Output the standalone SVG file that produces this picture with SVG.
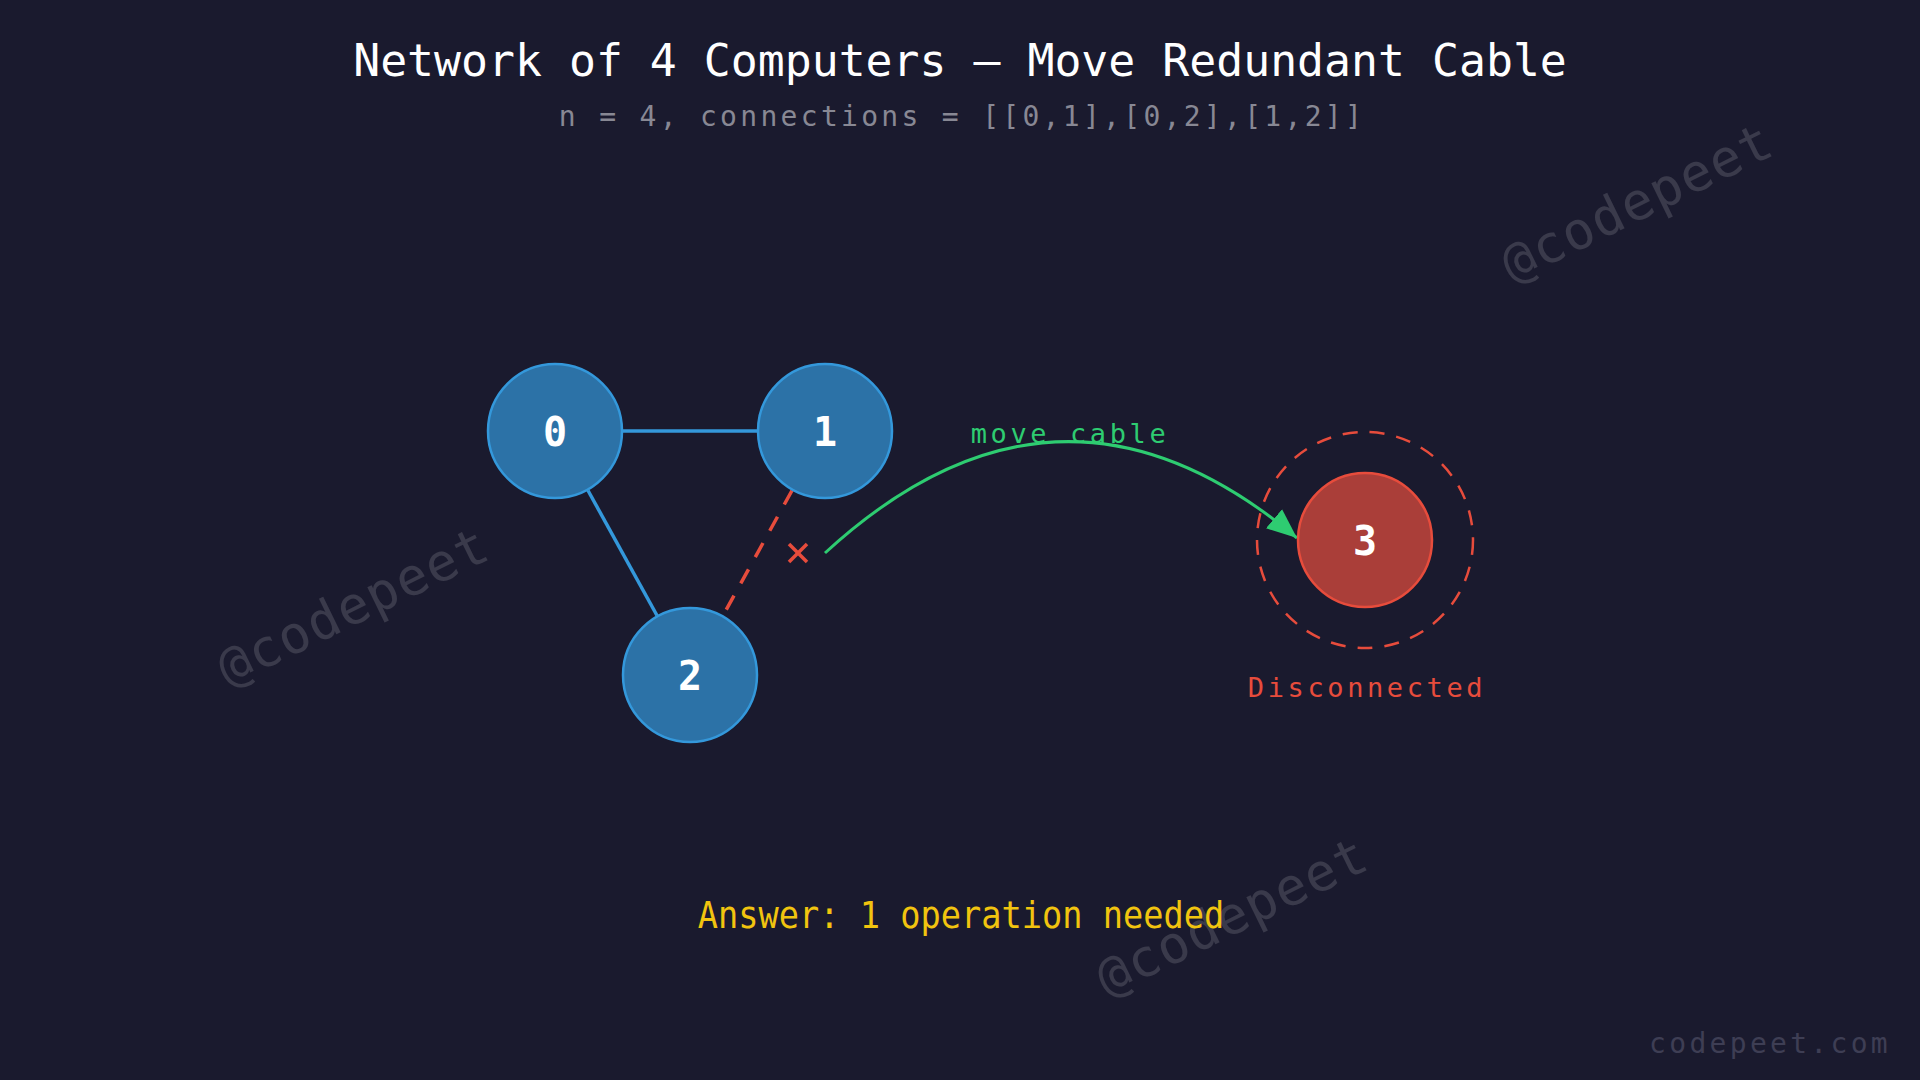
<svg xmlns="http://www.w3.org/2000/svg" width="1920" height="1080" viewBox="0 0 1920 1080">
<defs>
<style>
text{font-family:"DejaVu Sans Mono","Liberation Mono",monospace;}
.title{font-size:44.8px;fill:#ffffff;text-anchor:middle;}
.sub{font-size:28px;fill:#888894;text-anchor:middle;letter-spacing:3.3px;}
.wm{font-size:52px;fill:#ffffff;fill-opacity:0.14;text-anchor:middle;letter-spacing:1.5px;}
.foot{font-size:28px;fill:#3e3e54;text-anchor:end;letter-spacing:3.3px;}
.node{fill:#2c72a7;stroke:#3498db;stroke-width:2.5;}
.nodeBad{fill:#aa3e39;stroke:#e74c3c;stroke-width:2.5;}
.lbl{font-size:40px;font-weight:bold;fill:#ffffff;text-anchor:middle;}
.edge{stroke:#3498db;stroke-width:3.5;fill:none;}
.cut{stroke:#e74c3c;stroke-width:3.5;fill:none;stroke-dasharray:16,14;}
.note{font-size:27px;letter-spacing:3.6px;text-anchor:middle;}
</style>
<marker id="arrow" markerUnits="userSpaceOnUse" markerWidth="30" markerHeight="26" viewBox="0 0 12 10" refX="12" refY="5" orient="auto">
<path d="M0,0 L12,5 L0,10 z" fill="#2ecc71"/>
</marker>
</defs>
<rect width="1920" height="1080" fill="#1a1a2e"/>
<g id="watermarks">
<text class="wm" x="353" y="624" transform="rotate(-26 353 606)">@codepeet</text>
<text class="wm" x="1637" y="220" transform="rotate(-26 1637 202)">@codepeet</text>
<text class="wm" x="1232" y="934" transform="rotate(-26 1232 916)">@codepeet</text>
</g>
<text class="title" x="960" y="76">Network of 4 Computers — Move Redundant Cable</text>
<text class="sub" x="962" y="126">n = 4, connections = [[0,1],[0,2],[1,2]]</text>
<g id="connectors">
<line class="edge" x1="623" y1="431" x2="757" y2="431"/>
<line class="edge" x1="588" y1="490.5" x2="657" y2="615.5"/>
<line class="cut" x1="792" y1="490.5" x2="723" y2="615.5"/>
<g id="cut-mark" stroke="#e74c3c" stroke-width="3.5">
<line x1="789" y1="544" x2="807" y2="562"/>
<line x1="807" y1="544" x2="789" y2="562"/>
</g>
<path id="move-arc" d="M825,553 Q1059,338 1297,538" stroke="#2ecc71" stroke-width="3" fill="none" marker-end="url(#arrow)"/>
<text class="note" x="1070" y="443" fill="#2ecc71">move cable</text>
</g>
<g id="node-0">
<circle class="node" cx="555" cy="431" r="67"/>
<text class="lbl" x="555" y="446">0</text>
</g>
<g id="node-1">
<circle class="node" cx="825" cy="431" r="67"/>
<text class="lbl" x="825" y="446">1</text>
</g>
<g id="node-2">
<circle class="node" cx="690" cy="675" r="67"/>
<text class="lbl" x="690" y="690">2</text>
</g>
<g id="node-3">
<circle cx="1365" cy="540" r="108" fill="none" stroke="#e74c3c" stroke-width="2.5" stroke-dasharray="15,12"/>
<circle class="nodeBad" cx="1365" cy="540" r="67"/>
<text class="lbl" x="1365" y="555">3</text>
<text class="note" x="1367" y="697" fill="#e74c3c">Disconnected</text>
</g>
<text transform="translate(961,928) scale(0.885,1)" x="0" y="0" font-size="38" fill="#f1c40f" text-anchor="middle">Answer: 1 operation needed</text>
<text class="foot" x="1891" y="1053">codepeet.com</text>
</svg>
